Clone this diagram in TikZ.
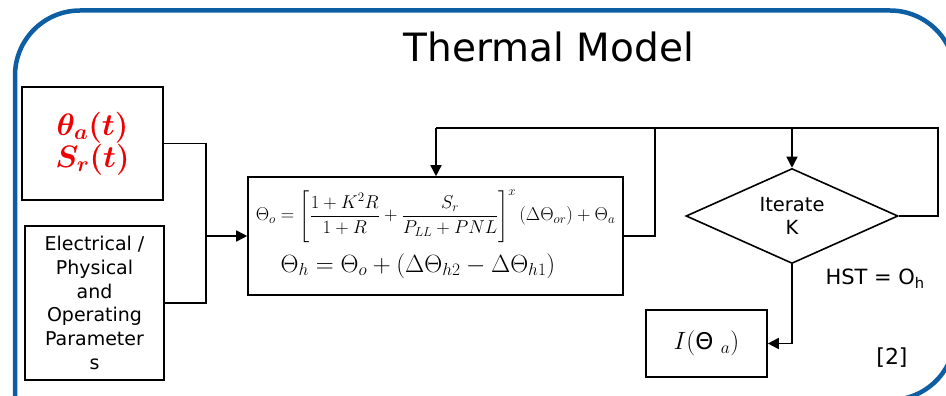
\RequirePackage{fix-cm}
\documentclass[tikz,border=0pt]{standalone}
\usepackage{amsmath,bm}
\usepackage{fontspec}
\setsansfont{DejaVu Sans}
\usetikzlibrary{arrows.meta,shapes.geometric}
\definecolor{frameblue}{RGB}{14,94,164}
\definecolor{inred}{RGB}{240,0,0}
\begin{document}
\begin{tikzpicture}[x=1pt,y=-1pt,
  box/.style={draw, line width=1.6pt, inner sep=0pt},
  conn/.style={line width=1.6pt},
  arr/.style={conn, -{Triangle[length=11pt,width=11pt]}},
  lab/.style={font=\sffamily\fontsize{19}{23.7}\selectfont, align=center}]
\useasboundingbox (0,0) rectangle (946,396);
\clip (0,0) rectangle (946,396);
% frame
\draw[frameblue, line width=4.5pt, rounded corners=65pt]
  (15,430) -- (15,10.5) -- (955,10.5) -- (955,400) -- (700,400);
% title
\node[font=\sffamily\fontsize{39}{42}\selectfont] (title) at (549,47) {Thermal Model};
% inputs
\node[box, minimum width=141pt, minimum height=113pt, text=inred, align=center,
  font=\fontsize{31}{33}\selectfont] (inp) at (92.5,143.5)
  {$\bm{\theta_a(t)}$\\[-1pt]$\bm{S_r(t)}$};
\node[box, lab, minimum width=139pt, minimum height=154pt] (par) at (94.5,303)
  {Electrical /\\Physical\\and\\Operating\\Parameter\\s};
% equation box
\node[box, minimum width=375pt, minimum height=118pt] (eq) at (435.5,236) {};
\node[font=\fontsize{18.6}{22}\selectfont] (eqa) at (435.5,216)
  {$\Theta_o=\left[\dfrac{1+K^2R}{1+R}+\dfrac{S_r}{P_{LL}+PNL}\right]^x(\Delta\Theta_{or})+\Theta_a$};
\node[font=\fontsize{24.9}{28}\selectfont] (eqb) at (418,266)
  {$\Theta_h=\Theta_o+(\Delta\Theta_{h2}-\Delta\Theta_{h1})$};
% diamond
\node[draw, diamond, line width=1.6pt, inner sep=0pt, minimum width=212pt, minimum height=95pt] (dia) at (792,216) {};
\node[lab, font=\sffamily\fontsize{19.5}{23}\selectfont] (diat) at (792,216) {Iterate\\K};
% result
\node[box, minimum width=121pt, minimum height=67pt, font=\fontsize{25}{28}\selectfont] (res) at (706.5,343.5)
  {$I(\textsf{\fontsize{23}{28}\selectfont\symbol{"0398}}\ _a)$};
% labels
\node[lab, font=\sffamily\fontsize{21}{24}\selectfont, anchor=west] (hst) at (822,279) {HST = O\textsubscript{h}};
\node[lab, font=\sffamily\fontsize{22}{24}\selectfont] (ref) at (892,358) {[2]};
% connectors
\coordinate (j) at (206,236);
\coordinate (tl) at (436,128);
\coordinate (tm) at (655,128);
\coordinate (trr) at (938,128);
\draw[conn] (inp.east) -| (j);
\draw[conn] (par.east) -| (j);
\draw[arr] (j) -- (eq.west);
\draw[conn] (eq.east) -| (tm);
\draw[conn] (tl) -- (trr) |- (dia.east);
\draw[arr] (tl) -- (tl |- eq.north);
\draw[arr] (dia.north |- tl) -- (dia.north);
\draw[arr] (dia.south) |- (res.east);
\end{tikzpicture}
\end{document}
